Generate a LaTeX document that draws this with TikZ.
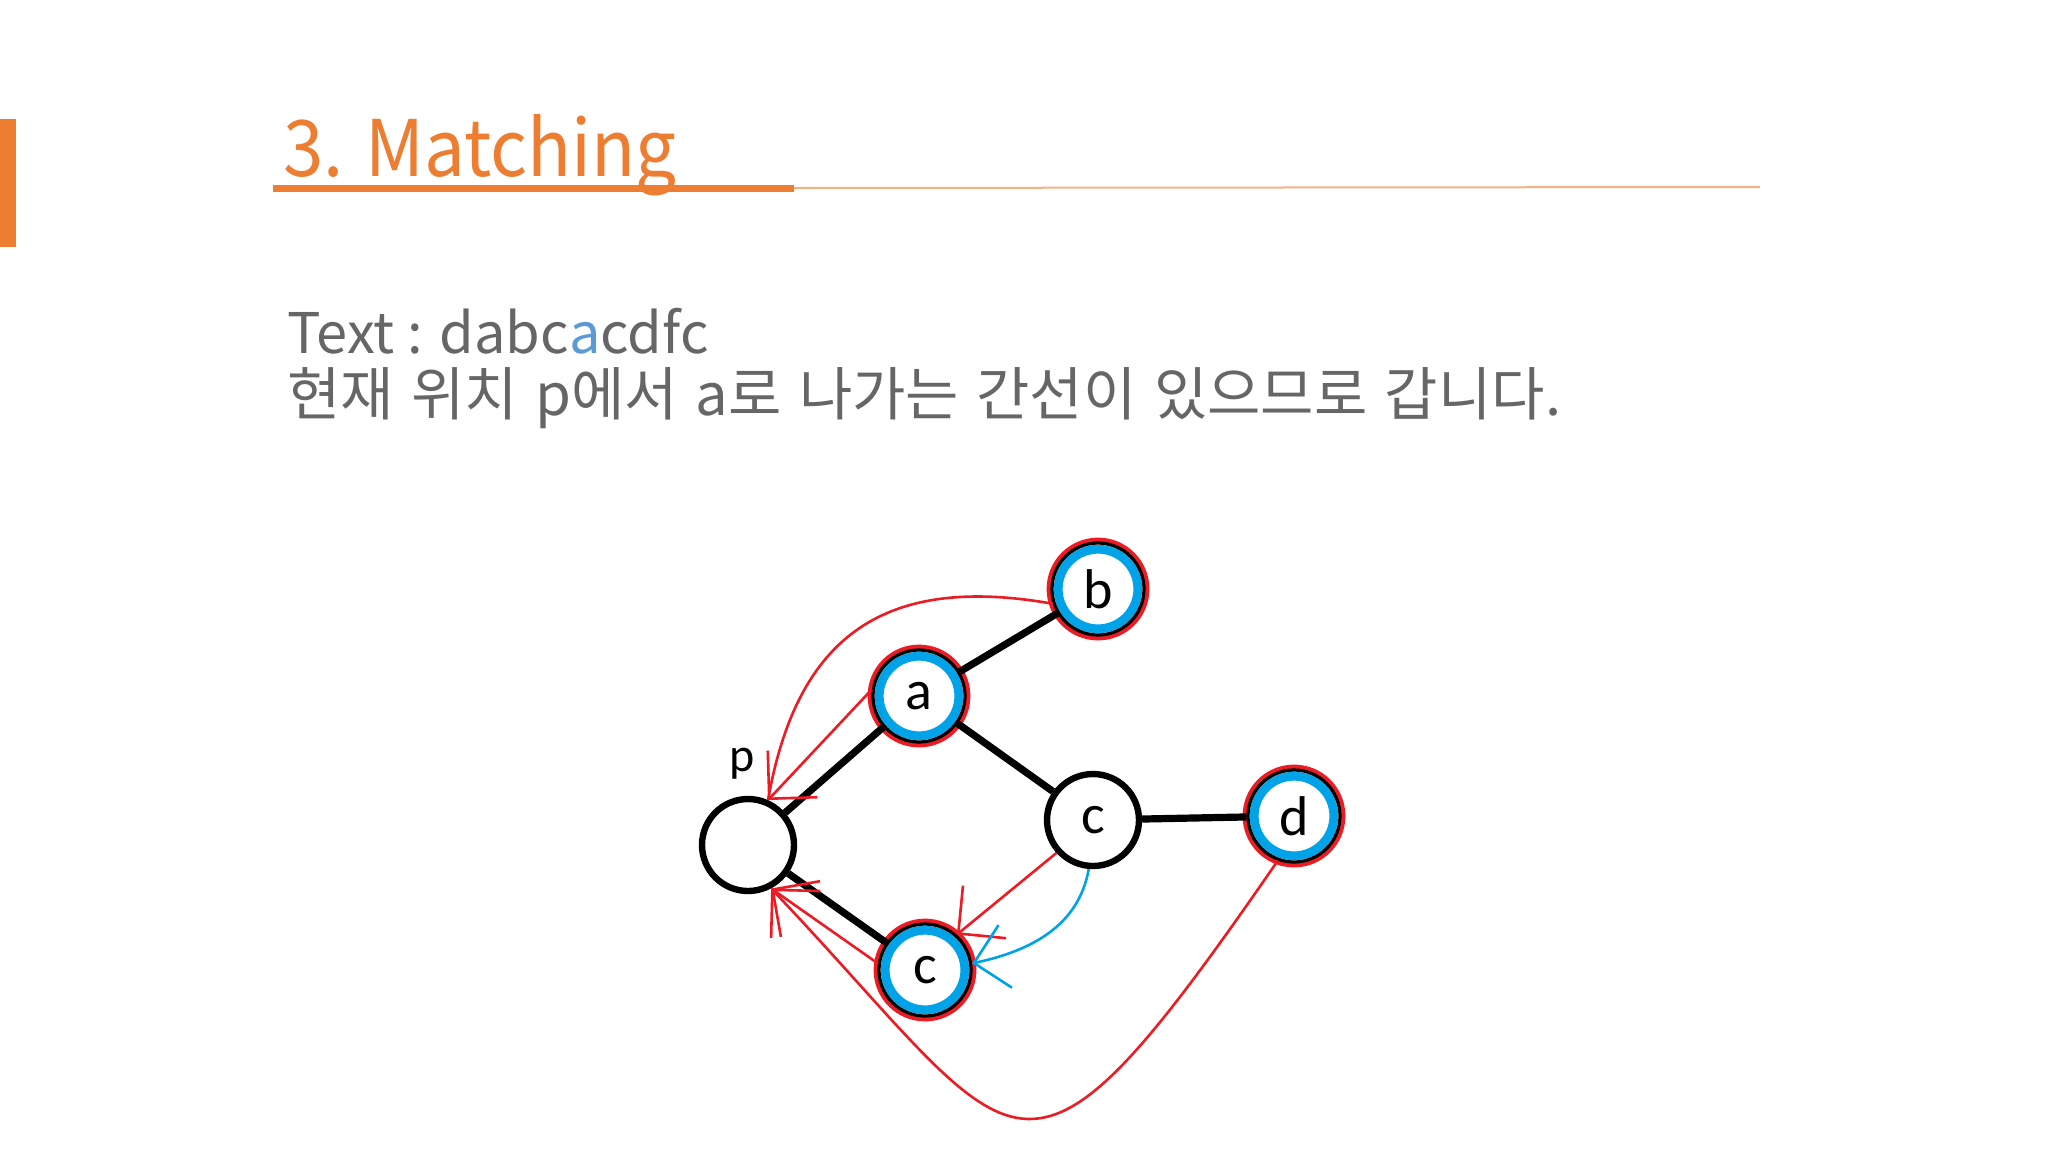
\documentclass[tikz,border=0pt]{standalone}
\usepackage{fontspec}
\usepackage{tikz}
\usetikzlibrary{arrows.meta}
\setmainfont{Noto Sans CJK KR}
\newfontfamily\titlefont[FakeStretch=0.93]{Noto Sans CJK KR}
\newfontfamily\lblfont{Carlito}
\newcommand\widesp{\spaceskip=0.3em\relax}
\definecolor{orng}{HTML}{ED7D31}
\definecolor{lorng}{HTML}{F4B183}
\definecolor{txtgray}{HTML}{666666}
\definecolor{hlblue}{HTML}{5B9BD5}
\definecolor{pred}{HTML}{ED1C24}
\definecolor{pblue}{HTML}{00A2E8}

\tikzset{
  state/.style={circle, draw=black, line width=3.2pt, fill=white, minimum size=46pt,
    inner sep=0pt, font=\lblfont\fontsize{28}{28}\selectfont},
  seen/.style={state, line width=1.6pt,
    preaction={draw=pred, line width=5.4pt},
    path picture={\draw[pblue, line width=4.4pt] (path picture bounding box.center) circle (19.9pt);}},
  edge/.style={line width=3.6pt},
  backline/.style={pred, line width=1.3pt},
  back/.style={backline, -{Straight Barb[length=17pt,width=34pt]}},
  fwd/.style={pblue, line width=1.3pt, -{Straight Barb[length=16pt,width=32pt]}}
}

\begin{document}
\begin{tikzpicture}[x=0.5pt,y=-0.5pt]
\useasboundingbox[fill=white] (0,0) rectangle (2048,1152);
\fill[orng] (0,119) rectangle (16,247);
\node[anchor=base west, inner sep=0pt, text=orng, font=\titlefont\fontsize{39}{39}\selectfont] (title) at (283,176) {3. Matching};
\draw[orng, line width=3.5pt] (273,188) coordinate (ul) -- (794,188) coordinate (ur);
\draw[lorng, line width=1pt] (ur) -- (1760,187);
\node[anchor=base west, inner sep=0pt, text=txtgray, font=\fontsize{28}{28}\selectfont] (line1) at (287,353) {Text : dabc\textcolor{hlblue}{a}cdfc};
\node[anchor=base west, inner sep=0pt, text=txtgray, font=\fontsize{29}{29}\selectfont\widesp] (line2) at (287,415) {현재 위치 p에서 a로 나가는 간선이 있으므로 갑니다.};

\node[state] (p) at (748,845) {};
\node[seen] (a) at (919,696) {a};
\node[seen] (b) at (1098,589) {b};
\node[state] (cm) at (1093,820) {c};
\node[seen] (d) at (1294,816) {d};
\node[seen] (cb) at (925,970) {c};
\node[font=\lblfont\fontsize{24}{24}\selectfont] (plbl) at (742,764) {p};

\draw[edge] (p) -- (a);
\draw[edge] (a) -- (b);
\draw[edge] (a) -- (cm);
\draw[edge] (cm) -- (d);
\draw[edge] (p) -- (cb);

\draw[back] (a.172) -- (p.66);
\draw[backline] (b.198) to[out=170,in=80,looseness=1.25] (p.66);
\draw[back] (cm.222) -- (cb.48);
\draw[back] (cb.172) -- (p.-62);
\draw[back] (d.-110) .. controls (1015,1242) and (1026,1157) .. (p.-62);
\draw[fwd] (cm.-95) to[out=-100,in=12] (cb.8);
\end{tikzpicture}
\end{document}
